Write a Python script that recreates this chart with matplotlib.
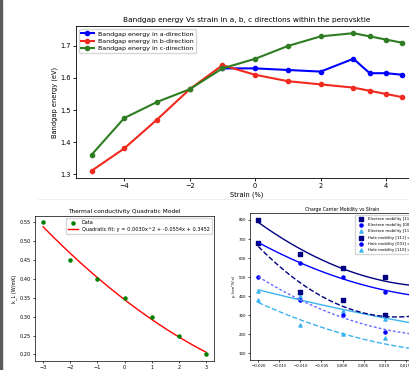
import numpy as np
import matplotlib.pyplot as plt
from matplotlib.patches import Rectangle

# --- bandgap vs strain ---
strain_a = [-1, 0, 1, 2, 3, 3.5, 4, 4.5]
gap_a = [1.63, 1.63, 1.625, 1.62, 1.66, 1.615, 1.615, 1.61]
strain_bc = [-5, -4, -3, -2, -1, 0, 1, 2, 3, 3.5, 4, 4.5]
gap_b = [1.31, 1.38, 1.47, 1.565, 1.64, 1.61, 1.59, 1.58, 1.57, 1.56, 1.55, 1.54]
gap_c = [1.36, 1.475, 1.525, 1.565, 1.63, 1.66, 1.70, 1.73, 1.74, 1.73, 1.72, 1.71]

# --- thermal conductivity ---
tc_strain = [-3, -2, -1, 0, 1, 2, 3]
tc_k = [0.55, 0.45, 0.40, 0.35, 0.30, 0.25, 0.20]

# --- carrier mobility ---
mob_strain = [-0.02, -0.01, 0.0, 0.01, 0.02]
e_111 = [800, 620, 550, 500, 440]
e_001 = [680, 575, 500, 420, 400]
e_110 = [425, 400, 320, 280, 250]
h_111 = [680, 420, 380, 300, 300]
h_001 = [500, 380, 300, 210, 200]
h_110 = [380, 250, 200, 180, 100]

fig = plt.figure(figsize=(4.09, 3.70), dpi=100)
fig.patches.append(Rectangle((0, 0), 2 / 409, 1, transform=fig.transFigure,
                             color='#5a5a5a', zorder=10))
fig.add_artist(plt.Line2D([38 / 409, 1], [1 - 199 / 370] * 2, color='#ececec', lw=0.6))

# top chart
ax = fig.add_axes([76 / 409, 1 - 177.7 / 370, 342 / 409, 151.4 / 370])
ax.plot(strain_a, gap_a, '-o', color='blue', lw=1.5, ms=3.0, label='Bandgap energy in a-direction')
ax.plot(strain_bc, gap_b, '-o', color='#f02a1e', lw=1.5, ms=3.0, label='Bandgap energy in b-direction')
ax.plot(strain_bc, gap_c, '-o', color='#2e7d22', lw=1.5, ms=3.0, label='Bandgap energy in c-direction')
ax.set_title('Bandgap energy Vs strain in a, b, c directions within the perovsktie', fontsize=5.3, pad=3)
ax.set_xlabel('Strain (%)', fontsize=4.8, labelpad=2)
ax.set_ylabel('Bandgap energy (eV)', fontsize=4.8, labelpad=2)
ax.tick_params(labelsize=4.8, length=2, width=0.6, pad=1.5)
ax.legend(loc='upper left', fontsize=4.5, handlelength=2, borderpad=0.3, labelspacing=0.3)
for s in ax.spines.values():
    s.set_linewidth(0.6)

# bottom left
ax2 = fig.add_axes([35 / 409, 9 / 370, 179 / 409, 145.3 / 370])
coef = np.polyfit(tc_strain, tc_k, 2)
xs = np.linspace(min(tc_strain), max(tc_strain), 100)
ax2.scatter(tc_strain, tc_k, color='green', s=5, zorder=3, label='Data')
ax2.plot(xs, np.polyval(coef, xs), color='red', lw=1.0,
         label=f'Quadratic fit: y = {coef[0]:.4f}x^2 + {coef[1]:.4f}x + {coef[2]:.4f}')
ax2.set_title('Thermal conductivity Quadratic Model', fontsize=4.2, pad=2)
ax2.set_ylabel('k_L (W/mK)', fontsize=3.6, labelpad=2)
ax2.tick_params(labelsize=3.6, length=1.5, width=0.5, pad=1.5)
ax2.legend(loc='upper right', fontsize=3.6, borderpad=0.4, labelspacing=0.3)
for s in ax2.spines.values():
    s.set_linewidth(0.5)

# bottom right
ax3 = fig.add_axes([250 / 409, 10 / 370, 185 / 409, 146.7 / 370])
xf = np.linspace(-0.02, 0.02, 100)
series = [
    ('Electron mobility [111] direction', e_111, 'navy', 's', '-', 'navy'),
    ('Electron mobility [001] direction', e_001, 'blue', 'o', '-', 'blue'),
    ('Electron mobility [110] direction', e_110, '#3cb4f0', '^', '-', '#3cb4f0'),
    ('Hole mobility [111] direction', h_111, 'navy', 's', '--', 'navy'),
    ('Hole mobility [001] direction', h_001, 'blue', 'o', (0, (2, 1.5)), '#6a6aff'),
    ('Hole mobility [110] direction', h_110, '#3cb4f0', '^', '--', '#3cb4f0'),
]
for name, vals, col, mk, ls, lc in series:
    ax3.scatter(mob_strain, vals, color=col, marker=mk, s=5, label=name)
for name, vals, col, mk, ls, lc in series:
    c = np.polyfit(mob_strain, vals, 2)
    ax3.plot(xf, np.polyval(c, xf), color=lc, ls=ls, lw=1.0)
ax3.set_title('Charge Carrier Mobility vs Strain', fontsize=3.3, pad=2)
ax3.set_ylabel('μ (cm²/V·s)', fontsize=2.8, labelpad=2)
ax3.set_xlabel('Strain', fontsize=2.8, labelpad=1)
ax3.tick_params(labelsize=2.8, length=1.5, width=0.5, pad=1.5)
ax3.legend(loc='upper right', fontsize=2.8, borderpad=0.4, labelspacing=0.6)
for s in ax3.spines.values():
    s.set_linewidth(0.5)

fig.savefig('out.png', dpi=100)
